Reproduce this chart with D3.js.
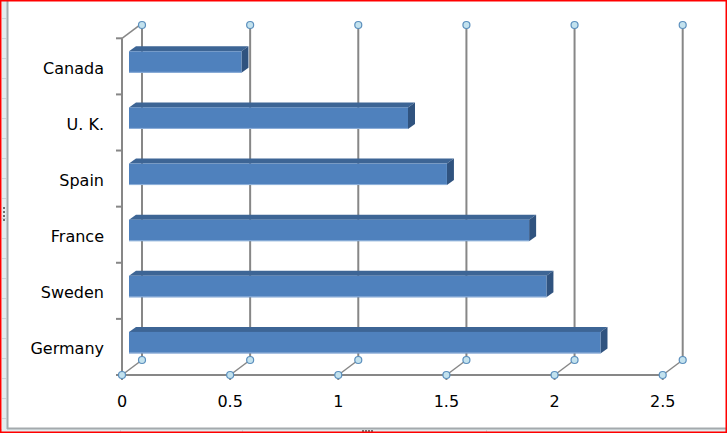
<!DOCTYPE html>
<html>
<head>
<meta charset="utf-8">
<script src="https://cdn.jsdelivr.net/npm/d3@7"></script>
<style>
  html, body { margin: 0; padding: 0; background: #fff; }
  svg { display: block; }
</style>
</head>
<body>
<div id="chart"></div>
<script>
// Chart data
const categories = ["Canada", "U. K.", "Spain", "France", "Sweden", "Germany"];
const values = [0.52, 1.29, 1.47, 1.85, 1.93, 2.18];
const xTicks = [0, 0.5, 1, 1.5, 2, 2.5];
const xTickLabels = ["0", "0.5", "1", "1.5", "2", "2.5"];

const width = 727, height = 433;

// depth of the 3D box (back wall offset) and bar depth
const depth = { dx: 20, dy: -15 };
const barOffset = { dx: 7, dy: -4.3 };
const barDepth = { dx: 7, dy: -5 };
const barHeight = 21.5;

const gridColor = "#878787";

const svg = d3.select("#chart").append("svg")
  .attr("width", width)
  .attr("height", height);

// Frame of the spreadsheet window around the chart
svg.append("rect")
  .attr("x", 2).attr("y", 0)
  .attr("width", 5).attr("height", height)
  .attr("fill", "#e3ecee");
svg.append("rect")
  .attr("x", 0).attr("y", 429)
  .attr("width", width).attr("height", 4)
  .attr("fill", "#e3ecee");
svg.append("line")
  .attr("x1", 7.5).attr("x2", 7.5)
  .attr("y1", 0).attr("y2", 429)
  .attr("stroke", "#a4aaad").attr("stroke-width", 2);
svg.append("line")
  .attr("x1", 7).attr("x2", width)
  .attr("y1", 428.5).attr("y2", 428.5)
  .attr("stroke", "#a4aaad").attr("stroke-width", 2);
[120, 242, 486].forEach(x => {
  svg.append("line")
    .attr("x1", x + 0.5).attr("x2", x + 0.5)
    .attr("y1", 430).attr("y2", 433)
    .attr("stroke", "#c9d3d6");
});
d3.range(18, 430, 20).forEach(y => {
  svg.append("line")
    .attr("x1", 2).attr("x2", 6)
    .attr("y1", y + 0.5).attr("y2", y + 0.5)
    .attr("stroke", "#c9d3d6");
});
// resize handles
[207, 211, 215, 219].forEach(y => {
  svg.append("rect").attr("x", 3).attr("y", y).attr("width", 2).attr("height", 2).attr("fill", "#707070");
});
[362, 365, 368, 371].forEach(x => {
  svg.append("rect").attr("x", x).attr("y", 430).attr("width", 2).attr("height", 2).attr("fill", "#707070");
});

// Scales (front plane)
const x = d3.scaleLinear()
  .domain([0, 2.5])
  .range([122, 662.7]);

const y = d3.scaleBand()
  .domain(categories)
  .range([38.3, 375]);

const floorY = y.range()[1];
const topY = y.range()[0];

// Back wall gridlines
const grid = svg.append("g");
grid.selectAll("line.grid")
  .data(xTicks)
  .enter()
  .append("line")
  .attr("x1", d => x(d) + depth.dx)
  .attr("x2", d => x(d) + depth.dx)
  .attr("y1", 25)
  .attr("y2", floorY + depth.dy)
  .attr("stroke", gridColor)
  .attr("stroke-width", 2);

// Floor diagonals
grid.selectAll("line.diag")
  .data(xTicks)
  .enter()
  .append("line")
  .attr("x1", d => x(d))
  .attr("y1", floorY)
  .attr("x2", d => x(d) + depth.dx)
  .attr("y2", floorY + depth.dy)
  .attr("stroke", gridColor)
  .attr("stroke-width", 1.5);

// Side wall (category axis)
grid.append("line")
  .attr("x1", x(0)).attr("x2", x(0))
  .attr("y1", topY).attr("y2", floorY)
  .attr("stroke", gridColor).attr("stroke-width", 2);
grid.append("line")
  .attr("x1", x(0)).attr("y1", topY)
  .attr("x2", x(0) + depth.dx).attr("y2", topY + depth.dy)
  .attr("stroke", gridColor).attr("stroke-width", 1.5);

// Category tick marks
const catBounds = categories.map(c => y(c)).concat([floorY]);
grid.selectAll("line.ctick")
  .data(catBounds)
  .enter()
  .append("line")
  .attr("x1", x(0) - 6).attr("x2", x(0))
  .attr("y1", d => d).attr("y2", d => d)
  .attr("stroke", gridColor).attr("stroke-width", 2);

// Value axis line + ticks
grid.append("line")
  .attr("x1", x(0)).attr("x2", x(2.5))
  .attr("y1", floorY).attr("y2", floorY)
  .attr("stroke", gridColor).attr("stroke-width", 2);
grid.selectAll("line.vtick")
  .data(xTicks)
  .enter()
  .append("line")
  .attr("x1", d => x(d)).attr("x2", d => x(d))
  .attr("y1", floorY).attr("y2", floorY + 5)
  .attr("stroke", gridColor).attr("stroke-width", 2);

// Bars (front, top and side faces)
const bars = svg.append("g")
  .selectAll("g")
  .data(categories.map((c, i) => ({ key: c, value: values[i] })))
  .enter()
  .append("g");

const fx0 = d => x(0) + barOffset.dx;
const fx1 = d => x(d.value) + barOffset.dx;
const fy0 = d => y(d.key) + y.bandwidth() / 2 + barOffset.dy - barHeight / 2;
const fy1 = d => fy0(d) + barHeight;

// top face
bars.append("path")
  .attr("d", d => `M${fx0(d)},${fy0(d)} L${fx0(d) + barDepth.dx},${fy0(d) + barDepth.dy} L${fx1(d) + barDepth.dx},${fy0(d) + barDepth.dy} L${fx1(d)},${fy0(d)} Z`)
  .attr("fill", "#3d6595");

// side face
bars.append("path")
  .attr("d", d => `M${fx1(d)},${fy0(d)} L${fx1(d) + barDepth.dx},${fy0(d) + barDepth.dy} L${fx1(d) + barDepth.dx},${fy1(d) + barDepth.dy} L${fx1(d)},${fy1(d)} Z`)
  .attr("fill", "#30537f");

// front face
bars.append("rect")
  .attr("x", fx0)
  .attr("y", fy0)
  .attr("width", d => fx1(d) - fx0(d))
  .attr("height", barHeight)
  .attr("fill", "#4f81bd");
bars.append("line")
  .attr("x1", fx0).attr("x2", fx1)
  .attr("y1", d => fy1(d) - 0.5).attr("y2", d => fy1(d) - 0.5)
  .attr("stroke", "#8fb1da").attr("stroke-width", 1);

// Markers on the gridlines
const markers = svg.append("g");
const markerData = [];
xTicks.forEach(t => {
  markerData.push([x(t), floorY]);
  markerData.push([x(t) + depth.dx, floorY + depth.dy]);
  markerData.push([x(t) + depth.dx, 25]);
});
markers.selectAll("circle")
  .data(markerData)
  .enter()
  .append("circle")
  .attr("cx", d => d[0])
  .attr("cy", d => d[1])
  .attr("r", 3.5)
  .attr("fill", "#c3e2ee")
  .attr("stroke", "#5b8fbd")
  .attr("stroke-width", 1.2);

// Category labels
svg.append("g")
  .selectAll("text")
  .data(categories)
  .enter()
  .append("text")
  .attr("x", 104)
  .attr("y", d => y(d) + y.bandwidth() / 2 + 7.5)
  .attr("text-anchor", "end")
  .style("font-family", "'DejaVu Sans', sans-serif")
  .style("font-size", "16px")
  .attr("fill", "#000")
  .text(d => d);

// Value labels
svg.append("g")
  .selectAll("text")
  .data(xTicks)
  .enter()
  .append("text")
  .attr("x", d => x(d))
  .attr("y", 407)
  .attr("text-anchor", "middle")
  .style("font-family", "'DejaVu Sans', sans-serif")
  .style("font-size", "16px")
  .attr("fill", "#000")
  .text((d, i) => xTickLabels[i]);

// Outer red border
svg.append("rect")
  .attr("x", 0.75).attr("y", 0.75)
  .attr("width", width - 1.5).attr("height", height - 1.5)
  .attr("fill", "none")
  .attr("stroke", "#ff0000")
  .attr("stroke-width", 1.5);
</script>
</body>
</html>
